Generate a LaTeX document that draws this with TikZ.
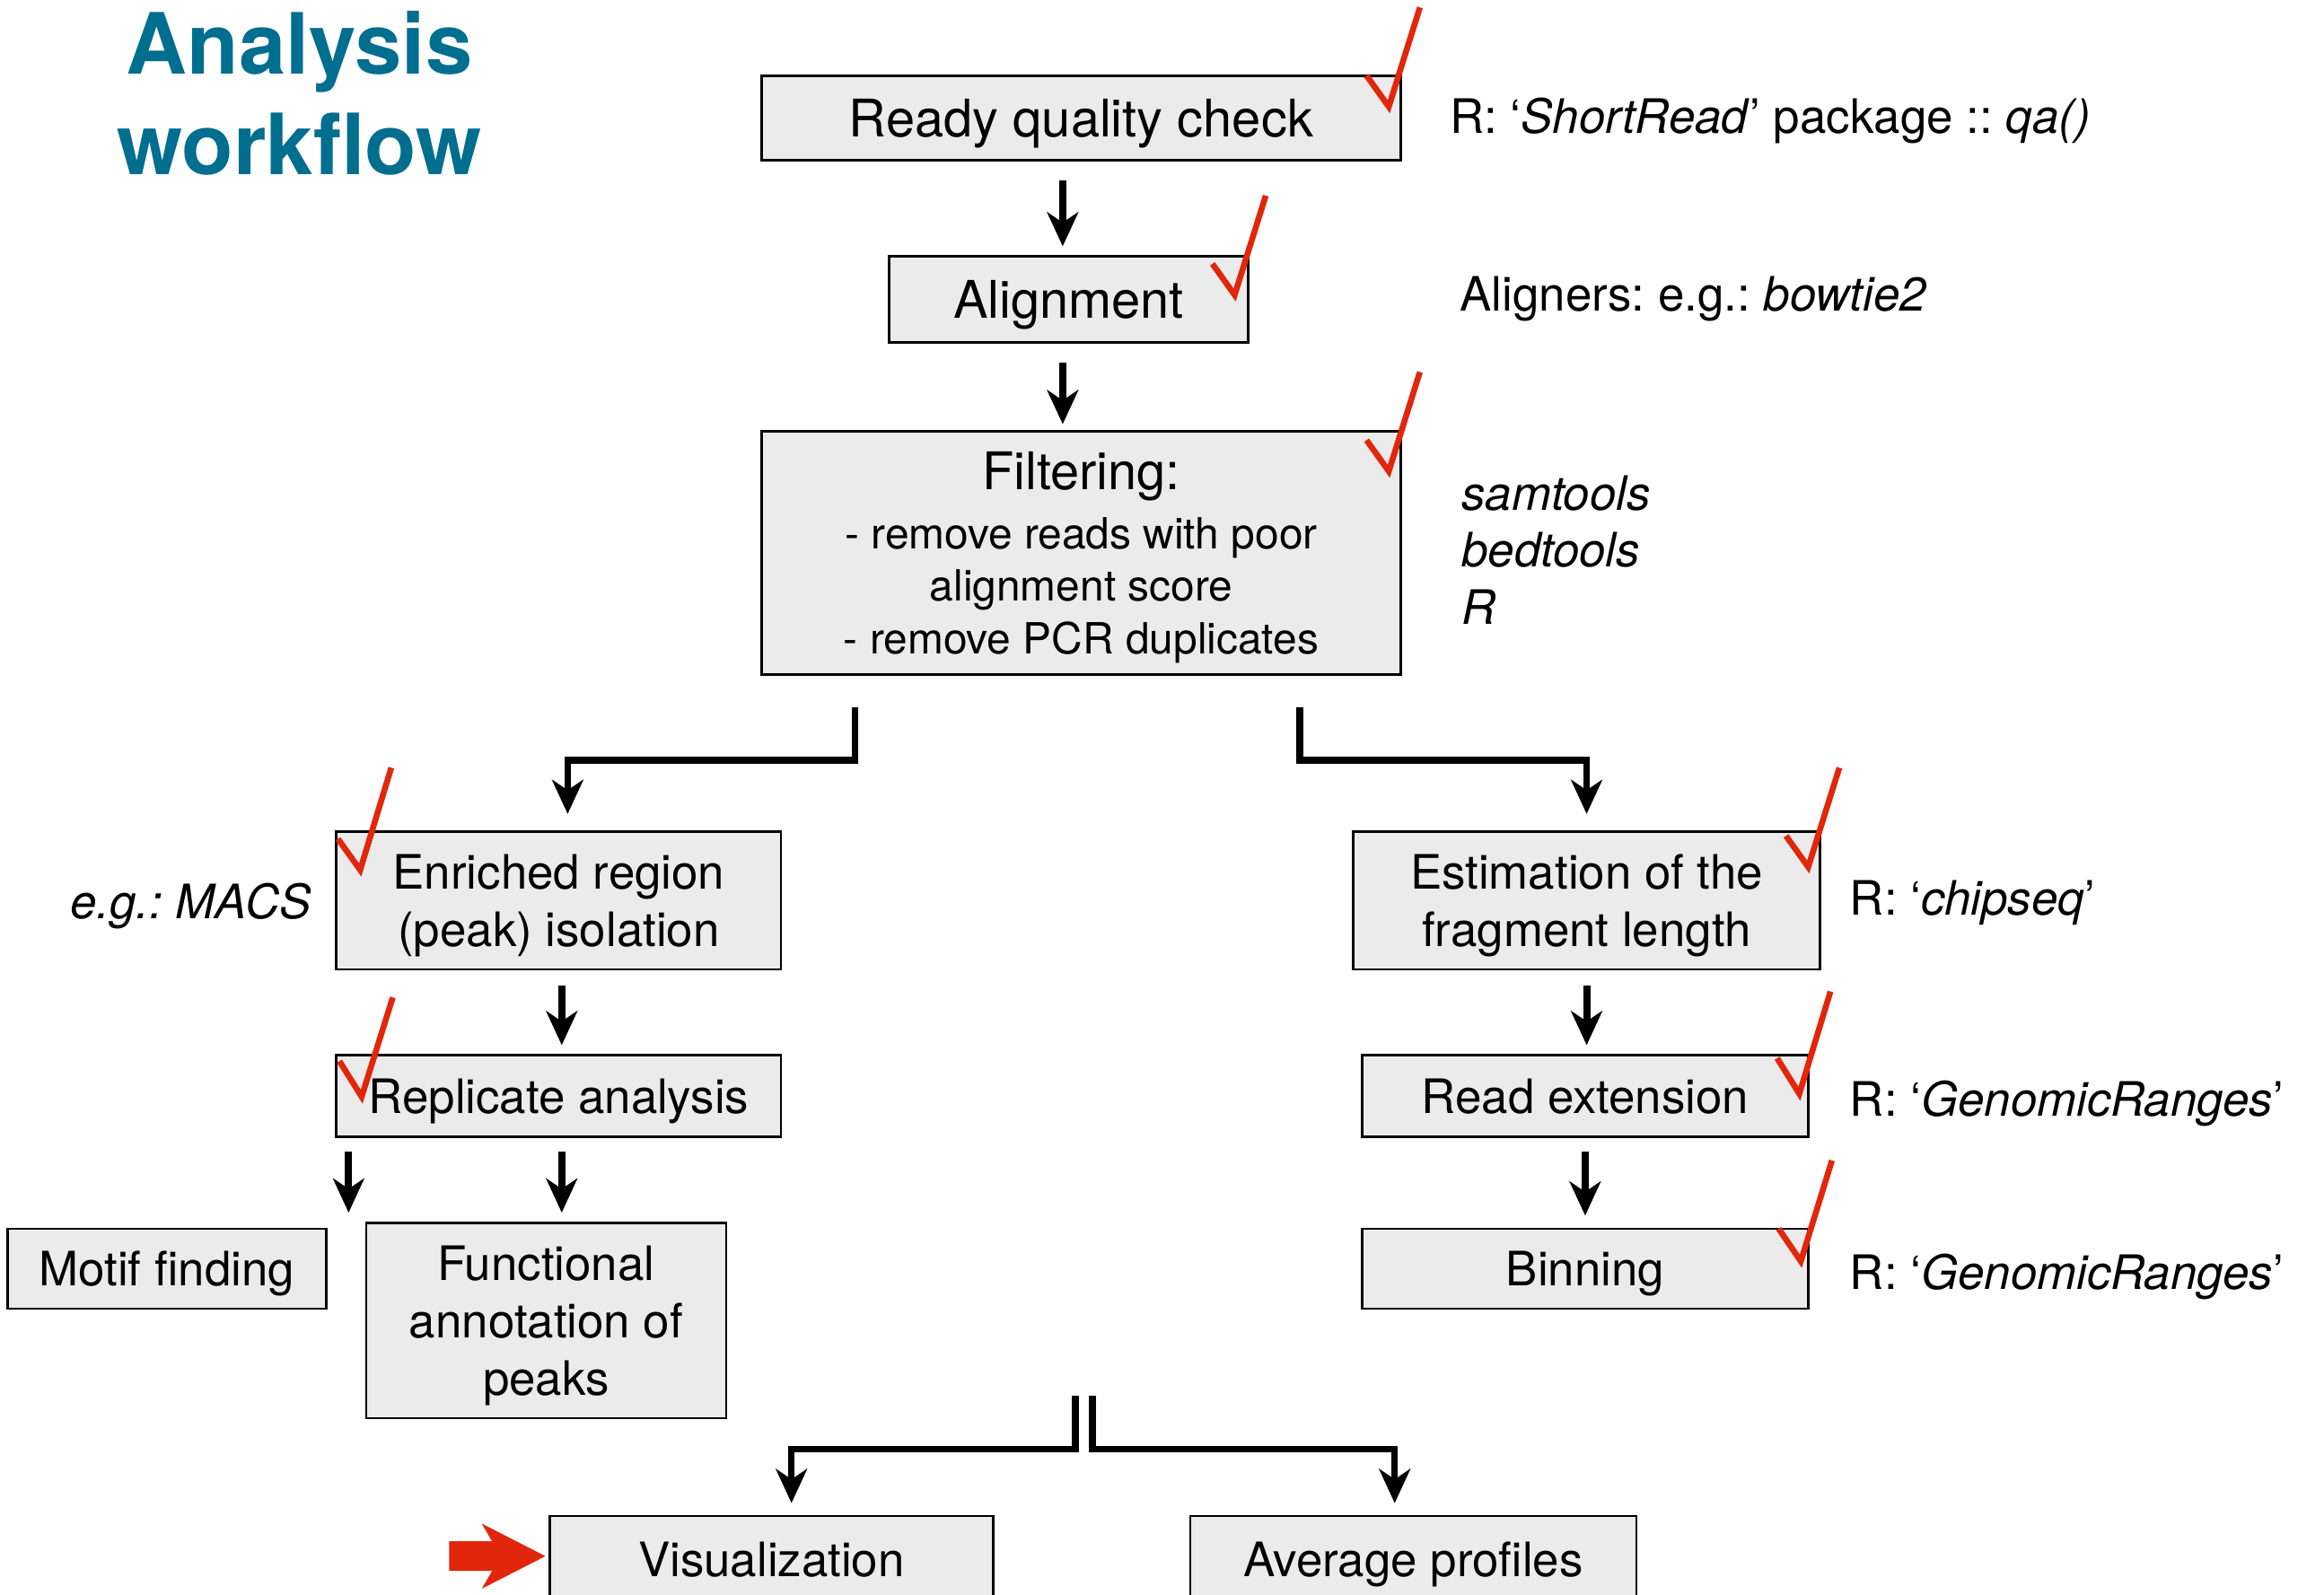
\documentclass[tikz,border=0pt]{standalone}
\usepackage{fontspec}
\setmainfont{TeX Gyre Heros}
\frenchspacing
\usepackage{tikz}
\usetikzlibrary{arrows.meta,calc}
\definecolor{boxgray}{RGB}{235,235,235}
\definecolor{tickred}{RGB}{225,38,12}
\definecolor{titleblue}{RGB}{0,110,143}
\tikzset{
 stepbox/.style={draw=black, line width=1.6pt, fill=boxgray, inner sep=0pt, align=center, text depth=0pt, font=\fontsize{32}{39}\selectfont},
 arr/.style={line width=4.8pt, -{Stealth[length=23pt,width=21pt,inset=7pt]}},
 brarr/.style={line width=4.4pt, line join=miter, -{Stealth[length=23pt,width=21pt,inset=7pt]}},
 note/.style={anchor=west, inner sep=0pt, text depth=0pt, font=\fontsize{32}{38.5}\selectfont},
 tickmark/.style={draw=tickred, line width=4pt},
 titletext/.style={anchor=base, text=titleblue, font=\fontsize{57}{68}\selectfont\bfseries}
}

\begin{document}
\begin{tikzpicture}[x=1pt,y=-1pt]
\useasboundingbox (0,0) rectangle (1568,1076);

% title
\node[titletext] (title1) at (202,50) {Analysis};
\node[titletext] (title2) at (202,118) {workflow};

% boxes
\node[stepbox, minimum width=431pt, minimum height=57pt, font=\fontsize{35}{42}\selectfont] (ready) at (729.5,79.5) {Ready quality check};
\node[stepbox, minimum width=242pt, minimum height=58pt, font=\fontsize{35}{42}\selectfont] (align) at (721,202) {Alignment};
\node[stepbox, minimum width=431pt, minimum height=164pt, font=\fontsize{29}{35.5}\selectfont] (filter) at (729.5,373) {{\fontsize{35}{40}\selectfont Filtering:}\\[4.5pt]- remove reads with poor\\alignment score\\- remove PCR duplicates};
\node[stepbox, minimum width=300pt, minimum height=93pt] (enrich) at (377,607.5) {Enriched region\\(peak) isolation};
\node[stepbox, minimum width=315pt, minimum height=93pt] (estim) at (1070.5,607.5) {Estimation of the\\fragment length};
\node[stepbox, minimum width=300pt, minimum height=55pt] (repl) at (377,739.5) {Replicate analysis};
\node[stepbox, minimum width=301pt, minimum height=55pt] (readext) at (1069.5,739.5) {Read extension};
\node[stepbox, minimum width=215pt, minimum height=54pt] (motif) at (112.5,856) {Motif finding};
\node[stepbox, minimum width=243pt, minimum height=132pt] (func) at (368.5,891) {Functional\\annotation of\\peaks};
\node[stepbox, minimum width=301pt, minimum height=54pt] (binning) at (1069.5,856) {Binning};
\node[stepbox, minimum width=299pt, minimum height=58pt] (vis) at (520.5,1052) {Visualization};
\node[stepbox, minimum width=301pt, minimum height=58pt] (avg) at (953.5,1052) {Average profiles};

% tools
\node[note] (qanote) at (978,78) {R: ‘\textit{ShortRead}’ package :: \textit{qa()}};
\node[note] (alnote) at (985,198) {Aligners: e.g.: \textit{bowtie2}};
\node[note, align=left] (toolnote) at (986,371) {\textit{samtools}\\\textit{bedtools}\\\textit{R}};
\node[note, anchor=east] (macsnote) at (210,608) {\textit{e.g.: MACS}};
\node[note] (chipnote) at (1248,606) {R: ‘\textit{chipseq}’};
\node[note] (grnote1) at (1248,741) {R: ‘\textit{GenomicRanges}’};
\node[note] (grnote2) at (1248,858) {R: ‘\textit{GenomicRanges}’};

% arrows
\draw[arr, shorten <=13pt, shorten >=6pt] ([xshift=-4pt]ready.south -| align) -- ([xshift=-4pt]align.north);
\draw[arr, shorten <=13pt, shorten >=4pt] ([xshift=-4pt]align.south) -- ([xshift=-4pt]align.south |- filter.north);
\coordinate (fl) at (577,477);
\coordinate (fr) at (877,477);
\draw[brarr] (fl) -- ++(0,36) -| ([xshift=6pt,yshift=11pt]enrich.north);
\draw[brarr] (fr) -- ++(0,36) -| ([yshift=11pt]estim.north);
\draw[arr, shorten <=10pt, shorten >=6pt] ([xshift=2pt]enrich.south) -- ([xshift=2pt]repl.north);
\draw[arr, shorten <=10pt, shorten >=6pt] (estim.south) -- (estim.south |- readext.north);
\draw[arr, shorten <=9pt, shorten >=6pt] ([xshift=2pt]repl.south) -- ([xshift=2pt]repl.south |- func.north);
\draw[arr, shorten <=9pt, shorten >=10pt] ([xshift=9pt]repl.south west) -- ([xshift=9pt]repl.south west |- motif.north);
\draw[arr, shorten <=9pt, shorten >=8pt] (readext.south) -- (readext.south |- binning.north);
\coordinate (bl) at (725.5,942);
\coordinate (br) at (737,942);
\draw[brarr] (bl) -- ++(0,36) -| ([xshift=13.5pt,yshift=8pt]vis.north);
\draw[brarr] (br) -- ++(0,36) -| ([xshift=-12.5pt,yshift=8pt]avg.north);

% ticks
\draw[tickmark] (922,51) -- (937,72) -- (958,5);
\draw[tickmark] (818,178) -- (833,199) -- (854,132);
\draw[tickmark] (922,297) -- (937,318) -- (958,251);
\draw[tickmark] (228,566) -- (243,587) -- (264,518);
\draw[tickmark] (1205,564) -- (1220,585) -- (1241,518);
\draw[tickmark] (229,716) -- (244,740) -- (265,673);
\draw[tickmark] (1199,714) -- (1214,738) -- (1235,669);
\draw[tickmark] (1200,829) -- (1215,851) -- (1236,783);

% red pointer
\fill[tickred] (303,1040) -- (332,1040) -- (325,1028) -- (368,1050) -- (325,1072) -- (332,1060) -- (303,1060) -- cycle;
\end{tikzpicture}
\end{document}
